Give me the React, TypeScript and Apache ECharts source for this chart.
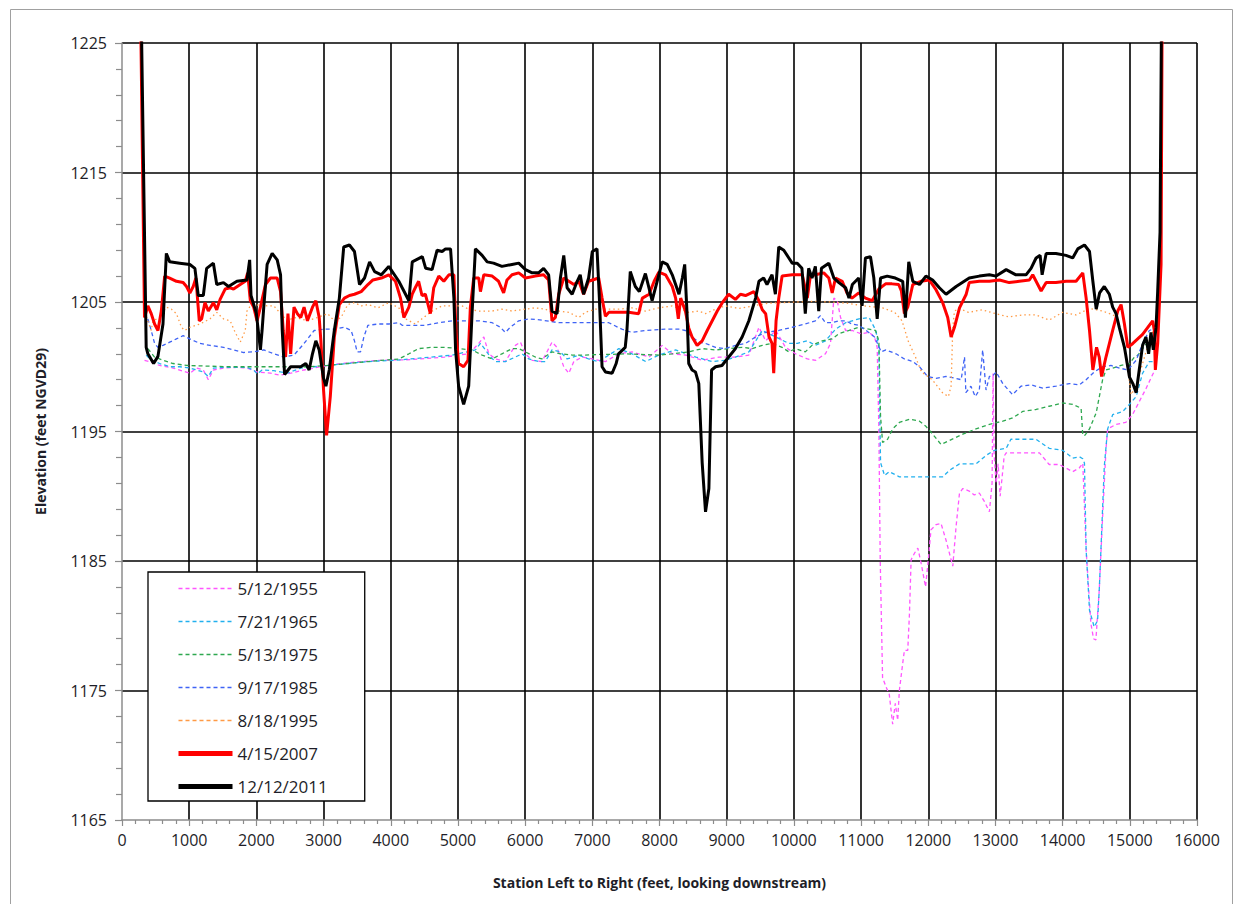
import React, { useEffect, useRef } from "react";
import * as echarts from "echarts";

// Cross-section surveys: [station (ft), elevation (ft NGVD29)]
const s1955: number[][] = [
  [335,1200.5],[410,1200.4],[560,1200.1],[760,1199.9],[1010,1199.5],[1110,1199.9],[1210,1199.75],[1285,1199.0],[1360,1199.75],[1510,1199.9],[1710,1199.95],[1860,1199.9],[2010,1199.6],[2210,1199.5],[2360,1199.35],[2510,1199.5],[2710,1199.75],[2960,1200.0],[3260,1200.25],[3560,1200.4],[3860,1200.5],[4300,1200.55],[4800,1200.75],[5160,1201.0],[5310,1201.8],[5385,1202.3],[5460,1201.0],[5560,1200.6],[5705,1200.4],[5855,1201.65],[5930,1201.9],[6005,1201.0],[6105,1200.5],[6250,1200.4],[6400,1201.9],[6475,1201.5],[6575,1200.0],[6650,1199.5],[6725,1200.4],[6850,1200.75],[7000,1200.6],[7195,1200.4],[7395,1201.0],[7590,1201.15],[7845,1200.75],[8040,1201.65],[8190,1201.0],[8390,1200.9],[8640,1200.5],[8885,1200.75],[9130,1200.75],[9330,1200.9],[9480,1203.05],[9580,1202.0],[9730,1202.8],[9875,1201.5],[10025,1201.0],[10200,1200.6],[10325,1200.5],[10470,1201.0],[10545,1201.8],[10595,1205.3],[10645,1205.1],[10695,1203.8],[10770,1202.8],[10870,1202.8],[10995,1202.55],[11120,1202.65],[11200,1202.3],[11240,1201.5],[11265,1195.2],[11285,1185.1],[11320,1176.0],[11370,1175.3],[11420,1174.7],[11470,1172.4],[11510,1174.0],[11545,1172.7],[11570,1175.0],[11620,1177.1],[11645,1178.1],[11695,1178.1],[11720,1180.9],[11745,1185.1],[11795,1185.6],[11845,1186.0],[11895,1184.8],[11960,1183.0],[12010,1185.6],[12040,1187.4],[12115,1187.8],[12190,1187.9],[12265,1186.6],[12365,1184.6],[12415,1187.7],[12465,1190.25],[12515,1190.6],[12610,1190.4],[12685,1190.1],[12760,1190.25],[12835,1189.6],[12910,1188.8],[12950,1191.0],[12965,1199.5],[12980,1193.3],[13010,1191.0],[13040,1192.5],[13070,1190.0],[13100,1191.5],[13130,1193.1],[13160,1193.35],[13405,1193.35],[13655,1193.35],[13800,1192.45],[13950,1192.45],[14150,1191.9],[14250,1192.2],[14300,1192.55],[14350,1185.85],[14420,1180.2],[14460,1179.0],[14495,1178.9],[14545,1182.75],[14595,1188.4],[14645,1193.6],[14670,1195.2],[14795,1195.55],[14940,1195.7],[15040,1196.3],[15140,1197.3],[15240,1198.3],[15340,1199.4],[15390,1199.9]
];

const s1965: number[][] = [
  [360,1200.9],[435,1200.5],[560,1200.25],[710,1200.0],[860,1200.0],[1010,1199.9],[1110,1199.75],[1210,1199.6],[1285,1199.25],[1360,1199.9],[1510,1199.95],[1860,1199.95],[1960,1199.75],[2010,1199.45],[2085,1199.75],[2260,1199.7],[2460,1199.5],[2660,1199.9],[2860,1200.0],[3360,1200.25],[3660,1200.4],[3860,1200.45],[4070,1200.5],[4500,1200.7],[4915,1200.9],[5260,1201.3],[5335,1201.8],[5410,1201.3],[5485,1200.75],[5560,1200.4],[5705,1200.4],[5855,1200.75],[5955,1201.0],[6055,1200.6],[6200,1200.4],[6300,1200.4],[6400,1201.3],[6525,1201.15],[6625,1200.6],[6800,1200.9],[6945,1200.6],[7095,1200.4],[7245,1200.9],[7395,1201.4],[7590,1201.0],[7795,1200.4],[7990,1200.9],[8240,1201.3],[8540,1200.75],[8785,1200.4],[8985,1200.5],[9130,1200.75],[9330,1201.15],[9530,1202.8],[9730,1202.3],[9925,1201.8],[10050,1201.8],[10200,1202.0],[10320,1201.65],[10470,1202.0],[10620,1202.9],[10770,1203.4],[10970,1203.7],[11120,1203.8],[11220,1202.8],[11265,1201.5],[11290,1192.6],[11350,1191.6],[11420,1191.9],[11570,1191.5],[11820,1191.5],[12065,1191.5],[12215,1191.5],[12315,1192.0],[12465,1192.5],[12710,1192.5],[12860,1193.15],[12985,1193.55],[13160,1193.7],[13230,1194.4],[13405,1194.4],[13605,1194.4],[13800,1193.7],[14000,1193.55],[14150,1192.95],[14250,1193.05],[14300,1192.9],[14325,1192.55],[14350,1185.85],[14400,1181.2],[14470,1179.9],[14520,1180.4],[14545,1182.75],[14570,1185.85],[14620,1192.3],[14670,1195.2],[14745,1196.3],[14895,1196.55],[14995,1197.1],[15095,1197.7],[15190,1199.5],[15290,1200.4],[15365,1200.4]
];

const s1975: number[][] = [
  [385,1201.4],[485,1200.75],[610,1200.5],[760,1200.25],[960,1200.1],[1260,1200.05],[1610,1200.0],[1960,1200.0],[2360,1200.0],[2760,1200.0],[3060,1200.1],[3360,1200.25],[3660,1200.4],[3860,1200.5],[4120,1200.6],[4270,1201.0],[4415,1201.4],[4615,1201.5],[4815,1201.5],[5010,1201.4],[5210,1201.3],[5360,1200.9],[5510,1200.6],[5655,1201.0],[5805,1201.4],[5905,1201.4],[6005,1201.15],[6150,1200.75],[6250,1200.6],[6400,1201.15],[6525,1201.0],[6700,1200.9],[6895,1200.9],[7095,1200.95],[7295,1200.95],[7490,1201.0],[7690,1200.95],[7990,1200.9],[8190,1201.0],[8435,1201.15],[8635,1201.4],[8835,1201.3],[9030,1201.4],[9230,1201.5],[9380,1201.4],[9530,1201.65],[9675,1201.8],[9825,1201.5],[9925,1201.15],[10025,1201.4],[10170,1201.15],[10270,1201.65],[10420,1202.0],[10570,1202.15],[10670,1202.55],[10820,1202.8],[10965,1203.05],[11115,1202.9],[11215,1202.8],[11265,1202.0],[11290,1196.2],[11320,1194.15],[11395,1194.4],[11470,1195.2],[11570,1195.7],[11720,1195.95],[11870,1195.8],[11965,1195.4],[12065,1194.8],[12190,1194.0],[12315,1194.3],[12515,1194.8],[12710,1195.2],[12910,1195.55],[13110,1195.8],[13255,1196.05],[13405,1196.55],[13605,1196.7],[13800,1196.95],[14000,1197.2],[14150,1197.1],[14275,1196.8],[14300,1194.7],[14330,1194.7],[14400,1195.2],[14500,1196.45],[14595,1199.0],[14645,1199.75],[14745,1199.9],[14870,1200.1],[14995,1200.25],[15070,1200.75],[15120,1200.9],[15250,1201.8],[15350,1202.5]
];

const s1985: number[][] = [
  [385,1203.7],[435,1202.8],[485,1201.8],[535,1201.5],[610,1201.65],[710,1201.9],[810,1202.15],[910,1202.4],[1010,1202.15],[1160,1201.8],[1310,1201.65],[1510,1201.5],[1660,1201.3],[1810,1201.1],[1960,1201.15],[2110,1201.3],[2260,1201.0],[2410,1200.75],[2560,1200.9],[2710,1201.8],[2860,1202.8],[3010,1202.9],[3160,1202.9],[3310,1203.05],[3410,1202.8],[3460,1202.0],[3500,1201.15],[3550,1201.15],[3600,1202.3],[3660,1203.2],[3810,1203.3],[3970,1203.3],[4120,1203.4],[4170,1203.2],[4320,1203.2],[4515,1203.2],[4715,1203.4],[4915,1203.55],[5110,1203.55],[5310,1203.55],[5510,1203.4],[5630,1203.05],[5705,1202.65],[5780,1203.05],[5905,1203.55],[6055,1203.7],[6250,1203.6],[6500,1203.4],[6800,1203.4],[7045,1203.4],[7245,1203.4],[7440,1202.9],[7590,1202.65],[7790,1202.8],[8090,1202.9],[8290,1202.9],[8385,1202.8],[8485,1202.3],[8585,1201.9],[8685,1201.8],[8835,1201.5],[8980,1201.4],[9130,1201.65],[9280,1201.8],[9430,1202.3],[9580,1202.65],[9775,1202.8],[9975,1203.05],[10170,1203.3],[10320,1203.55],[10395,1203.95],[10470,1203.4],[10570,1203.4],[10670,1203.55],[10770,1203.55],[10865,1203.3],[10965,1203.2],[11075,1202.8],[11200,1202.3],[11300,1201.15],[11370,1201.3],[11520,1201.0],[11645,1200.6],[11770,1200.4],[11870,1200.0],[11990,1199.25],[12115,1199.1],[12265,1199.25],[12415,1199.1],[12490,1199.0],[12540,1200.75],[12560,1198.0],[12635,1198.5],[12700,1197.7],[12760,1198.2],[12810,1201.3],[12860,1198.2],[12910,1199.25],[12960,1199.3],[13010,1199.6],[13110,1198.7],[13255,1197.85],[13380,1198.5],[13530,1198.6],[13705,1198.35],[13900,1198.5],[14100,1198.7],[14250,1198.6],[14350,1199.0],[14470,1199.6],[14595,1200.0],[14720,1200.1],[14845,1199.9],[14970,1199.75],[15095,1200.5],[15190,1201.8],[15290,1202.8],[15340,1202.9]
];

const s1995: number[][] = [
  [340,1204.2],[435,1202.8],[460,1203.55],[560,1203.8],[660,1204.6],[735,1204.45],[810,1204.1],[885,1203.05],[935,1202.8],[1010,1203.05],[1160,1203.3],[1310,1203.7],[1410,1204.2],[1510,1203.7],[1610,1203.55],[1685,1202.65],[1760,1201.9],[1835,1202.8],[1860,1204.3],[1910,1204.7],[2060,1204.8],[2160,1204.7],[2260,1204.7],[2360,1204.1],[2460,1203.55],[2560,1203.8],[2660,1203.7],[2760,1203.55],[2910,1203.8],[3060,1204.1],[3160,1203.55],[3260,1203.8],[3360,1204.8],[3460,1204.95],[3560,1204.7],[3660,1204.8],[3810,1204.55],[3970,1204.95],[4120,1204.55],[4220,1203.7],[4365,1203.3],[4465,1203.7],[4615,1204.3],[4765,1204.7],[4890,1204.7],[5060,1204.7],[5160,1204.45],[5310,1204.3],[5510,1204.3],[5655,1204.45],[5805,1204.3],[6005,1204.45],[6150,1204.55],[6300,1204.45],[6400,1204.2],[6500,1204.3],[6650,1204.2],[6800,1203.8],[6895,1204.2],[7045,1204.45],[7195,1204.45],[7395,1204.45],[7590,1204.55],[7790,1204.3],[7990,1204.55],[8190,1204.7],[8435,1204.2],[8585,1204.3],[8685,1204.1],[8835,1204.45],[8980,1204.7],[9180,1204.5],[9400,1204.7],[9600,1204.9],[9830,1204.95],[10050,1205.0],[10300,1205.05],[10550,1205.0],[10800,1204.9],[11050,1204.7],[11320,1204.55],[11500,1204.2],[11610,1203.55],[11700,1202.0],[11810,1200.75],[11900,1199.6],[12060,1199.0],[12210,1198.0],[12300,1197.7],[12340,1198.5],[12365,1203.0],[12390,1204.3],[12460,1204.5],[12600,1204.2],[12800,1204.4],[13000,1204.1],[13200,1203.85],[13400,1204.0],[13600,1204.0],[13800,1203.6],[14000,1204.2],[14200,1204.0],[14400,1204.5],[14600,1204.3],[14795,1203.9],[14895,1202.0],[14970,1199.75],[15020,1197.85],[15095,1198.5],[15190,1200.25],[15290,1202.0],[15365,1203.05]
];

const s2007: number[][] = [
  [280,1226],[335,1203.8],[385,1204.7],[435,1204.1],[485,1203.3],[535,1202.8],[585,1204.3],[635,1207.0],[710,1206.85],[810,1206.6],[910,1206.5],[960,1206.2],[1010,1205.7],[1060,1206.2],[1100,1206.85],[1150,1203.55],[1185,1203.7],[1235,1204.95],[1285,1204.3],[1360,1204.95],[1410,1204.4],[1460,1205.2],[1535,1206.0],[1610,1206.1],[1660,1206.0],[1760,1206.35],[1835,1206.6],[1870,1207.25],[1910,1205.1],[1960,1204.6],[2010,1203.55],[2060,1204.6],[2135,1206.35],[2210,1206.85],[2310,1206.85],[2360,1205.8],[2400,1202.8],[2435,1200.75],[2470,1204.1],[2510,1201.0],[2560,1204.6],[2610,1204.1],[2660,1203.8],[2710,1204.6],[2760,1203.55],[2835,1204.6],[2885,1205.1],[2935,1203.8],[2960,1202.0],[3000,1198.2],[3045,1194.7],[3100,1197.7],[3160,1202.3],[3235,1204.8],[3310,1205.3],[3385,1205.5],[3460,1205.6],[3560,1205.8],[3660,1206.35],[3735,1206.7],[3860,1206.85],[3970,1207.1],[4070,1206.6],[4145,1205.3],[4195,1203.8],[4270,1204.6],[4320,1205.6],[4365,1206.1],[4415,1206.6],[4465,1205.5],[4515,1205.6],[4590,1204.1],[4640,1206.1],[4715,1207.0],[4790,1206.6],[4865,1207.1],[4940,1207.1],[4970,1202.8],[5010,1200.25],[5085,1200.0],[5150,1200.5],[5185,1204.6],[5235,1206.85],[5310,1206.85],[5335,1205.8],[5385,1207.1],[5510,1207.0],[5605,1206.6],[5680,1205.7],[5730,1206.7],[5805,1207.1],[5905,1207.25],[6005,1206.85],[6150,1207.0],[6275,1207.1],[6350,1206.7],[6400,1203.55],[6450,1203.8],[6500,1205.6],[6575,1206.85],[6650,1206.6],[6725,1206.35],[6800,1206.6],[6870,1205.6],[6945,1206.6],[7095,1206.85],[7145,1205.3],[7195,1203.9],[7245,1204.2],[7395,1204.2],[7540,1204.2],[7690,1204.1],[7745,1205.3],[7845,1205.6],[7920,1206.6],[7990,1207.3],[8090,1207.1],[8190,1206.2],[8240,1205.3],[8280,1203.7],[8315,1205.3],[8385,1204.3],[8435,1203.0],[8485,1202.3],[8560,1201.65],[8635,1202.0],[8710,1202.8],[8785,1203.55],[8860,1204.3],[8935,1204.95],[9030,1205.6],[9130,1205.2],[9205,1205.6],[9280,1205.5],[9405,1205.8],[9480,1205.1],[9530,1204.4],[9580,1204.1],[9630,1202.3],[9675,1201.8],[9700,1199.5],[9735,1203.55],[9775,1205.3],[9825,1207.0],[9975,1207.1],[10125,1207.1],[10200,1205.3],[10245,1207.0],[10320,1207.1],[10445,1207.25],[10520,1206.85],[10570,1205.7],[10620,1206.85],[10720,1206.6],[10790,1205.7],[10865,1205.3],[10965,1205.7],[11065,1205.3],[11165,1205.1],[11265,1206.0],[11365,1206.4],[11460,1206.4],[11560,1206.35],[11600,1205.85],[11645,1204.1],[11695,1204.6],[11770,1206.35],[11890,1206.6],[12015,1206.7],[12115,1205.95],[12215,1204.95],[12290,1203.8],[12340,1202.3],[12390,1203.05],[12465,1204.55],[12565,1205.6],[12610,1206.5],[12760,1206.6],[12910,1206.6],[13060,1206.7],[13205,1206.5],[13355,1206.6],[13505,1206.7],[13555,1207.1],[13605,1206.6],[13680,1205.85],[13755,1206.5],[13900,1206.5],[14050,1206.6],[14200,1206.6],[14300,1207.25],[14350,1205.3],[14400,1202.8],[14450,1199.75],[14505,1201.5],[14545,1200.75],[14580,1199.25],[14645,1200.75],[14745,1202.8],[14820,1204.3],[14870,1204.8],[14920,1203.3],[14970,1201.5],[15045,1201.8],[15190,1202.5],[15340,1203.55],[15365,1202.8],[15380,1199.75],[15415,1201.8],[15465,1207.9],[15480,1226]
];

const s2011: number[][] = [
  [290,1226],[360,1201.5],[385,1201.0],[470,1200.25],[535,1200.8],[610,1203.3],[660,1208.75],[710,1208.1],[860,1208.0],[1010,1207.9],[1085,1207.6],[1135,1205.5],[1210,1205.5],[1260,1207.6],[1360,1208.0],[1410,1206.35],[1510,1206.5],[1585,1206.2],[1710,1206.6],[1860,1206.7],[1900,1208.25],[1920,1205.5],[2000,1204.1],[2060,1201.3],[2085,1202.8],[2110,1204.6],[2160,1207.9],[2235,1208.75],[2310,1208.25],[2360,1207.1],[2385,1202.8],[2420,1199.4],[2510,1200.0],[2660,1200.0],[2735,1200.25],[2785,1199.75],[2835,1201.0],[2885,1202.0],[2935,1201.3],[3000,1199.1],[3035,1198.5],[3085,1199.75],[3160,1202.8],[3235,1205.3],[3300,1209.25],[3385,1209.4],[3460,1208.9],[3535,1206.35],[3610,1206.85],[3685,1208.1],[3760,1207.35],[3860,1207.1],[3970,1207.75],[4120,1206.6],[4270,1205.1],[4320,1208.1],[4470,1208.5],[4520,1207.6],[4615,1207.5],[4690,1209.0],[4765,1208.9],[4815,1209.1],[4890,1209.1],[4940,1205.3],[4965,1201.3],[5010,1198.5],[5085,1197.1],[5160,1198.5],[5210,1204.1],[5260,1209.1],[5360,1208.6],[5435,1208.1],[5530,1208.0],[5655,1207.75],[5805,1207.9],[5905,1208.0],[6005,1207.5],[6105,1207.25],[6200,1207.25],[6275,1207.6],[6350,1207.1],[6400,1204.3],[6475,1204.1],[6525,1206.85],[6575,1208.6],[6625,1206.1],[6700,1205.6],[6775,1206.6],[6820,1207.1],[6870,1205.6],[6945,1206.85],[7000,1208.9],[7070,1209.1],[7105,1205.3],[7145,1200.0],[7195,1199.6],[7295,1199.5],[7355,1200.25],[7390,1201.0],[7490,1201.5],[7515,1202.8],[7565,1207.35],[7640,1206.2],[7700,1205.8],[7790,1207.2],[7890,1205.1],[7965,1206.6],[8040,1208.1],[8115,1207.9],[8190,1207.1],[8290,1205.6],[8340,1206.85],[8375,1207.9],[8410,1204.1],[8435,1200.25],[8485,1199.75],[8535,1199.6],[8585,1198.7],[8635,1192.6],[8685,1188.8],[8735,1190.6],[8775,1199.75],[8835,1200.0],[8930,1200.1],[9030,1200.75],[9130,1201.4],[9230,1202.3],[9330,1203.55],[9430,1205.3],[9480,1206.6],[9550,1206.85],[9600,1206.35],[9675,1207.1],[9725,1205.6],[9775,1209.25],[9850,1209.0],[9925,1208.4],[9975,1208.0],[10050,1208.0],[10120,1207.6],[10170,1204.1],[10220,1207.6],[10270,1206.85],[10320,1207.75],[10370,1204.3],[10410,1207.6],[10520,1208.0],[10595,1206.85],[10670,1206.5],[10770,1206.1],[10820,1205.3],[10870,1206.35],[10965,1206.85],[11015,1204.7],[11065,1208.4],[11140,1208.5],[11190,1206.85],[11240,1203.7],[11290,1206.85],[11390,1207.0],[11510,1206.85],[11620,1206.6],[11660,1203.8],[11710,1208.1],[11770,1206.6],[11870,1206.35],[11965,1207.0],[12065,1206.7],[12165,1206.1],[12265,1205.6],[12415,1206.2],[12610,1206.85],[12760,1207.0],[12910,1207.1],[13010,1207.0],[13160,1207.5],[13305,1207.1],[13455,1207.1],[13530,1207.6],[13605,1208.4],[13665,1208.6],[13695,1207.1],[13755,1208.75],[13900,1208.75],[14050,1208.6],[14150,1208.4],[14225,1209.1],[14325,1209.4],[14400,1208.9],[14450,1206.6],[14500,1204.45],[14550,1205.7],[14620,1206.2],[14695,1205.6],[14745,1204.6],[14795,1204.1],[14845,1203.0],[14920,1201.5],[14995,1199.2],[15045,1198.7],[15095,1198.0],[15140,1199.75],[15190,1201.65],[15240,1202.3],[15280,1201.0],[15315,1202.65],[15350,1201.3],[15390,1203.0],[15415,1205.85],[15450,1210.4],[15470,1226]
];

const surveyNames = ["5/12/1955", "7/21/1965", "5/13/1975", "9/17/1985", "8/18/1995", "4/15/2007", "12/12/2011"];
const surveyData = [s1955, s1965, s1975, s1985, s1995, s2007, s2011];
const surveyColors = ["#ff55ff", "#22b0ee", "#2ea84f", "#3f63f5", "#ff9a45", "#ff0000", "#000000"];

const FONT = "'Open Sans', 'Noto Sans', sans-serif";
const AXIS_GREY = "#8c8c8c";
const TEXT = "#1e1e28";

export default function App() {
  const ref = useRef<HTMLDivElement>(null);

  useEffect(() => {
    if (!ref.current) return;
    const chart = echarts.init(ref.current, undefined, { renderer: "svg" });

    const lineStyles = [
      { width: 1.3, type: [4, 3] },
      { width: 1.3, type: [4, 3] },
      { width: 1.3, type: [4, 3] },
      { width: 1.3, type: [4, 3] },
      { width: 1.3, type: [1.5, 3] },
      { width: 3, type: "solid" },
      { width: 3, type: "solid" },
    ];
    const legendLine = [
      { width: 1.5, type: [4, 3] },
      { width: 1.5, type: [4, 3] },
      { width: 1.5, type: [4, 3] },
      { width: 1.5, type: [4, 3] },
      { width: 1.5, type: [4, 3] },
      { width: 5, type: "solid" },
      { width: 5, type: "solid" },
    ];

    const series = surveyNames.map((name, i) => ({
      name,
      type: "line",
      data: surveyData[i],
      symbol: "none",
      showSymbol: false,
      clip: true,
      z: i + 2,
      lineStyle: { color: surveyColors[i], ...lineStyles[i] },
      itemStyle: { color: surveyColors[i] },
      emphasis: { disabled: true },
    }));

    const plain = (v: number) => String(v);

    chart.setOption({
      animation: false,
      backgroundColor: "#ffffff",
      graphic: [
        {
          type: "rect",
          shape: { x: 10.5, y: 9.5, width: 1222, height: 900 },
          style: { fill: "none", stroke: "#a0a0a0", lineWidth: 1 },
          silent: true,
          z: -1,
        },
      ],
      grid: { left: 122, right: 38, top: 43, bottom: 84, containLabel: false },
      legend: {
        orient: "vertical",
        left: 148,
        top: 572,
        padding: [8, 37, 6, 28],
        itemGap: 16,
        itemWidth: 54,
        itemHeight: 14,
        backgroundColor: "#ffffff",
        borderColor: "#000000",
        borderWidth: 1.3,
        selectedMode: false,
        textStyle: { fontFamily: FONT, fontSize: 17, color: TEXT },
        data: surveyNames.map((name, i) => ({
          name,
          itemStyle: { opacity: 0 },
          lineStyle: { color: surveyColors[i], ...legendLine[i] },
        })),
      },
      xAxis: {
        type: "value",
        min: 0,
        max: 16000,
        interval: 1000,
        name: "Station Left to Right (feet, looking downstream)",
        nameLocation: "middle",
        nameGap: 55,
        nameTextStyle: { fontFamily: FONT, fontSize: 14, fontWeight: "bold", color: TEXT },
        axisLine: { show: true, onZero: false, lineStyle: { color: AXIS_GREY, width: 1.5 } },
        axisTick: { show: true, length: 6, lineStyle: { color: AXIS_GREY, width: 1.2 } },
        minorTick: { show: true, splitNumber: 5, length: 4, lineStyle: { color: AXIS_GREY, width: 1.2 } },
        axisLabel: { margin: 12, fontFamily: FONT, fontSize: 16, color: TEXT, formatter: plain },
        splitLine: { show: true, showMinLine: false, lineStyle: { color: "#000000", width: 1.6 } },
      },
      yAxis: {
        type: "value",
        min: 1165,
        max: 1225,
        interval: 10,
        name: "Elevation (feet NGVD29)",
        nameLocation: "middle",
        nameGap: 75,
        nameTextStyle: { fontFamily: FONT, fontSize: 14, fontWeight: "bold", color: TEXT },
        axisLine: { show: true, lineStyle: { color: AXIS_GREY, width: 1.5 } },
        axisTick: { show: true, length: 7, lineStyle: { color: AXIS_GREY, width: 1.2 } },
        minorTick: { show: true, splitNumber: 5, length: 6, lineStyle: { color: AXIS_GREY, width: 1.2 } },
        axisLabel: { margin: 15, fontFamily: FONT, fontSize: 16, color: TEXT, formatter: plain },
        splitLine: { show: true, showMinLine: false, lineStyle: { color: "#000000", width: 1.6 } },
      },
      series,
    });

    return () => chart.dispose();
  }, []);

  return (
    <div
      ref={ref}
      style={{ position: "absolute", left: 0, top: 0, width: 1235, height: 904, background: "#fff" }}
    />
  );
}
